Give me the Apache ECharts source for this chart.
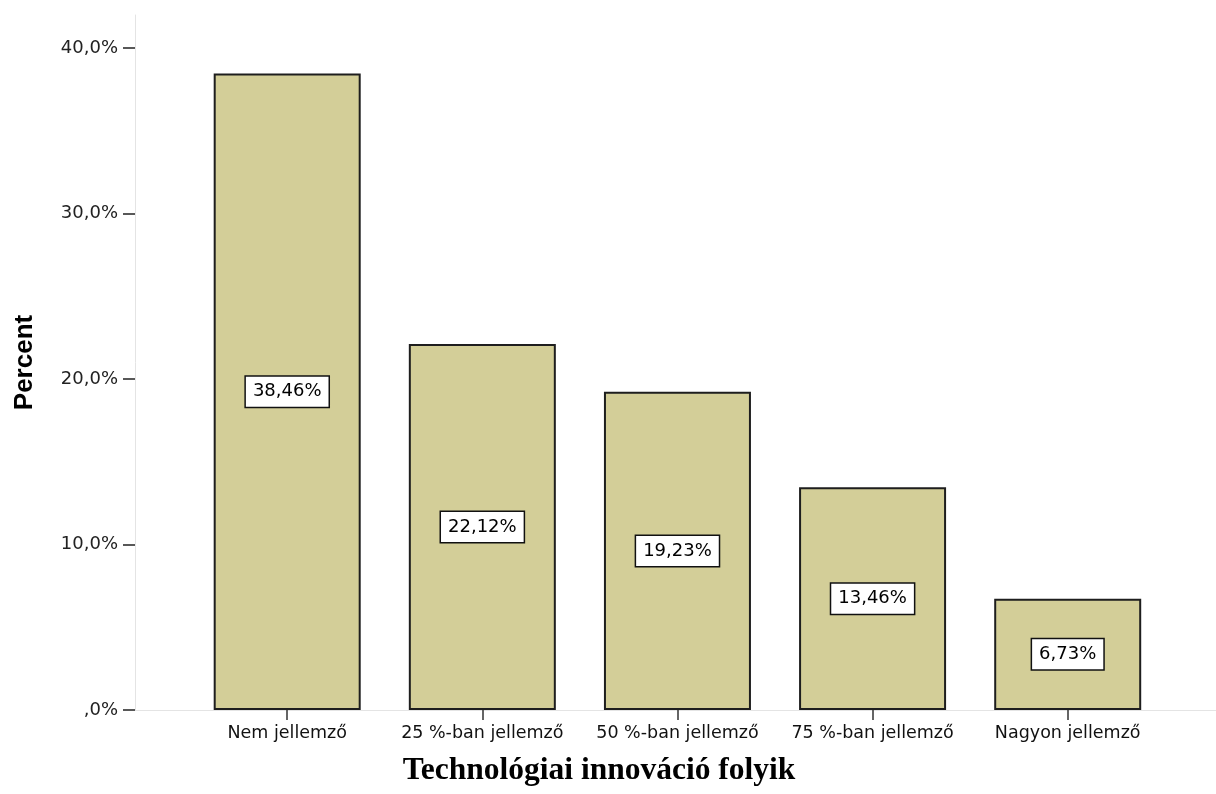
<!DOCTYPE html>
<html>
<head>
<meta charset="utf-8">
<script src="https://cdn.jsdelivr.net/npm/echarts@6/dist/echarts.min.js"></script>
<style>
html,body{margin:0;padding:0;background:#fff;}
#chart{width:1216px;height:794px;}
</style>
</head>
<body>
<div id="chart"></div>
<script>
const categories = ['Nem jellemző', '25 %-ban jellemző', '50 %-ban jellemző', '75 %-ban jellemző', 'Nagyon jellemző'];
const percentValues = [38.46, 22.12, 19.23, 13.46, 6.73];
const yTickValues = [0, 10, 20, 30, 40];
const xTitle = 'Technológiai innováció folyik';
const yTitle = 'Percent';

const chart = echarts.init(document.getElementById('chart'), null, {renderer: 'canvas'});
const catIdx = categories.map((c, i) => i);
const fmtPct = v => (v === 0 ? ',0%' : v.toFixed(1).replace('.', ',') + '%');

chart.setOption({
  animation: false,
  backgroundColor: '#ffffff',
  grid: {left: 135, right: 0, top: 15, bottom: 84},
  xAxis: {
    type: 'value',
    min: -0.78,
    max: 4.76,
    splitLine: {show: false},
    axisLine: {show: true, onZero: false, lineStyle: {color: '#e4e4e4', width: 1}},
    axisTick: {show: true, customValues: catIdx, length: 10, lineStyle: {color: '#333', width: 1.5}},
    axisLabel: {
      customValues: catIdx,
      formatter: v => categories[Math.round(v)] || '',
      margin: 14,
      fontFamily: 'DejaVu Sans',
      fontSize: 17.5,
      color: '#111'
    }
  },
  yAxis: {
    type: 'value',
    min: 0,
    max: 42,
    interval: 10,
    name: yTitle,
    nameLocation: 'middle',
    nameGap: 97,
    nameTextStyle: {fontFamily: 'Liberation Sans', fontWeight: 'bold', fontSize: 26, color: '#000'},
    splitLine: {show: false},
    axisLine: {show: true, onZero: false, lineStyle: {color: '#e4e4e4', width: 1}},
    axisTick: {show: true, customValues: yTickValues, length: 12, lineStyle: {color: '#222', width: 1.5}},
    axisLabel: {
      customValues: yTickValues,
      formatter: fmtPct,
      margin: 17,
      fontFamily: 'DejaVu Sans',
      fontSize: 18,
      color: '#222'
    }
  },
  graphic: [{
    type: 'text',
    x: 599,
    y: 771,
    style: {
      text: xTitle,
      fontFamily: '"Liberation Serif", "Times New Roman", serif',
      fontWeight: 'bold',
      fontSize: 31.5,
      fill: '#000',
      textAlign: 'center',
      textVerticalAlign: 'middle'
    }
  }],
  series: [{
    type: 'bar',
    barWidth: 147,
    data: percentValues.map((v, i) => [i, v]),
    itemStyle: {color: '#d3ce98', borderColor: '#1e1e1e', borderWidth: 2},
    label: {
      show: true,
      position: 'inside',
      formatter: p => p.value[1].toFixed(2).replace('.', ',') + '%',
      fontFamily: 'DejaVu Sans',
      fontSize: 18,
      lineHeight: 21,
      color: '#000',
      backgroundColor: '#ffffff',
      borderColor: '#111',
      borderWidth: 1.5,
      padding: [5, 7, 4, 7]
    }
  }]
});
</script>
</body>
</html>
